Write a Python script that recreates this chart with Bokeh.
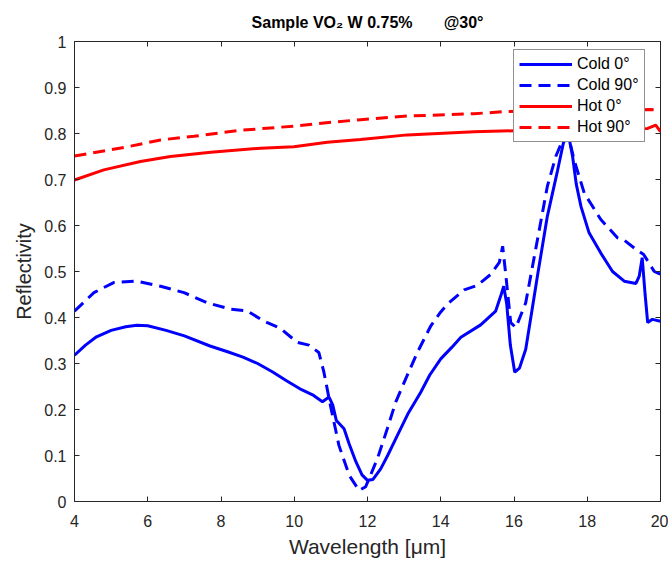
from bokeh.plotting import figure
from bokeh.models import LinearAxis, Range1d, Legend, LegendItem, FixedTicker
from bokeh.embed import file_html
from bokeh.resources import INLINE

# ---- data ----
cold0_x = [4.0, 4.3, 4.6, 5.0, 5.4, 5.7, 6.0, 6.5, 7.0, 7.7, 8.2, 8.6, 9.0, 9.4, 9.8, 10.2, 10.5,
           10.77, 10.95, 11.05, 11.15, 11.36, 11.5, 11.68, 11.85, 12.0, 12.15, 12.36, 12.55, 12.77,
           13.1, 13.45, 13.7, 14.0, 14.3, 14.55, 15.09, 15.5, 15.65, 15.72, 15.8, 15.9, 16.02, 16.15,
           16.32, 16.5, 16.64, 16.91, 17.19, 17.35, 17.48, 17.6, 17.7, 17.83, 18.05, 18.37, 18.69,
           19.01, 19.33, 19.42, 19.5, 19.58, 19.65, 19.78, 20.0]
cold0_y = [0.318, 0.34, 0.358, 0.372, 0.38, 0.383, 0.382, 0.372, 0.36, 0.338, 0.325, 0.314, 0.3,
           0.282, 0.262, 0.243, 0.232, 0.217, 0.227, 0.21, 0.176, 0.158, 0.125, 0.087, 0.058, 0.046,
           0.048, 0.071, 0.1, 0.136, 0.19, 0.237, 0.275, 0.31, 0.335, 0.357, 0.384, 0.414, 0.45,
           0.468, 0.43, 0.34, 0.281, 0.29, 0.331, 0.42, 0.49, 0.62, 0.72, 0.78, 0.80, 0.75, 0.69,
           0.641, 0.584, 0.54, 0.50, 0.479, 0.474, 0.49, 0.53, 0.45, 0.389, 0.396, 0.392]

cold90_x = [4.0, 4.53, 5.07, 5.71, 6.35, 6.99, 7.63, 8.26, 8.72, 9.17, 9.63, 10.08, 10.4, 10.67,
            10.81, 10.99, 11.22, 11.5, 11.77, 11.95, 12.27, 12.54, 12.77, 13.04, 13.36, 13.73, 14.0,
            14.18, 14.64, 15.0, 15.37, 15.6, 15.69, 15.78, 15.91, 16.05, 16.32, 16.64, 16.91, 17.14,
            17.35, 17.47, 17.65, 17.92, 18.37, 18.83, 19.01, 19.33, 19.54, 19.83, 20.0]
cold90_y = [0.414, 0.454, 0.476, 0.479, 0.468, 0.454, 0.432, 0.418, 0.414, 0.392, 0.376, 0.346,
            0.34, 0.324, 0.281, 0.208, 0.122, 0.057, 0.024, 0.032, 0.093, 0.158, 0.216, 0.266,
            0.324, 0.382, 0.412, 0.429, 0.46, 0.47, 0.494, 0.52, 0.555, 0.49, 0.389, 0.378, 0.432,
            0.569, 0.685, 0.75, 0.79, 0.80, 0.74, 0.67, 0.613, 0.573, 0.568, 0.548, 0.537, 0.50, 0.494]

hot0_x = [4.0, 4.8, 5.8, 6.62, 7.72, 9.08, 9.99, 10.9, 11.81, 13.09, 14.91, 16.0, 17.0, 18.0,
          19.0, 19.65, 19.87, 20.0]
hot0_y = [0.699, 0.721, 0.739, 0.75, 0.759, 0.768, 0.771, 0.781, 0.787, 0.797, 0.804, 0.806,
          0.807, 0.808, 0.81, 0.811, 0.818, 0.804]

hot90_x = [4.0, 5.44, 6.35, 7.26, 8.54, 9.99, 11.09, 11.81, 13.09, 14.91, 15.82, 17.0, 18.5,
           19.74, 20.0]
hot90_y = [0.751, 0.771, 0.786, 0.794, 0.807, 0.816, 0.825, 0.83, 0.838, 0.843, 0.848, 0.85,
           0.851, 0.852, 0.85]

x_ticks = [4, 6, 8, 10, 12, 14, 16, 18, 20]
y_ticks = [0, 0.1, 0.2, 0.3, 0.4, 0.5, 0.6, 0.7, 0.8, 0.9, 1]
y_tick_labels = {0: "0", 0.1: "0.1", 0.2: "0.2", 0.3: "0.3", 0.4: "0.4", 0.5: "0.5",
                 0.6: "0.6", 0.7: "0.7", 0.8: "0.8", 0.9: "0.9", 1: "1"}

FONT = "Liberation Sans"
AX = "#262626"
NB = "\u00a0"

p = figure(width=668, height=560, output_backend="svg", toolbar_location=None,
           x_range=Range1d(4, 20), y_range=Range1d(0, 1),
           min_border_left=74, min_border_right=8, min_border_top=41, min_border_bottom=57,
           title="Sample VO\u2082 W 0.75%" + NB * 7 + "@30\u00b0")
p.title.align = "center"
p.title.text_font = FONT
p.title.text_font_size = "16px"
p.title.text_font_style = "bold"
p.title.text_color = "black"
p.title.standoff = 21

p.grid.visible = False
p.outline_line_color = AX
p.outline_line_width = 1
p.background_fill_color = "white"

for ax in (p.xaxis[0], p.yaxis[0]):
    ax.major_tick_in = 5
    ax.major_tick_out = 0
    ax.minor_tick_in = 0
    ax.minor_tick_out = 0
    ax.axis_line_color = AX
    ax.major_tick_line_color = AX
    ax.major_label_text_font = FONT
    ax.major_label_text_font_size = "16px"
    ax.major_label_text_color = AX
    ax.axis_label_text_font = FONT
    ax.axis_label_text_font_style = "normal"
    ax.axis_label_text_color = AX

p.xaxis[0].axis_label_text_font_size = "21px"
p.yaxis[0].axis_label_text_font_size = "20px"
p.xaxis[0].ticker = FixedTicker(ticks=x_ticks)
p.yaxis[0].ticker = FixedTicker(ticks=y_ticks)
p.yaxis[0].major_label_overrides = y_tick_labels
p.xaxis[0].axis_label = "Wavelength [\u03bcm]"
p.yaxis[0].axis_label = "Reflectivity"
p.xaxis[0].major_label_standoff = 13
p.yaxis[0].major_label_standoff = 8
p.xaxis[0].axis_label_standoff = 5
p.yaxis[0].axis_label_standoff = 6

top = LinearAxis(ticker=FixedTicker(ticks=x_ticks))
right = LinearAxis(ticker=FixedTicker(ticks=y_ticks))
for ax in (top, right):
    ax.major_tick_in = 5
    ax.major_tick_out = 0
    ax.minor_tick_in = 0
    ax.minor_tick_out = 0
    ax.axis_line_color = None
    ax.major_tick_line_color = AX
    ax.major_label_text_font_size = "0px"
    ax.major_label_text_color = None
    ax.major_label_standoff = 0
p.add_layout(top, "above")
p.add_layout(right, "right")

lw = 3
r1 = p.line(cold0_x, cold0_y, line_color="#0000ff", line_width=lw)
r2 = p.line(cold90_x, cold90_y, line_color="#0000ff", line_width=lw, line_dash="12 7")
r3 = p.line(hot0_x, hot0_y, line_color="#ff0000", line_width=lw)
r4 = p.line(hot90_x, hot90_y, line_color="#ff0000", line_width=lw, line_dash="12 7")

legend = Legend(items=[LegendItem(label="Cold 0\u00b0", renderers=[r1]),
                       LegendItem(label="Cold 90\u00b0", renderers=[r2]),
                       LegendItem(label="Hot 0\u00b0", renderers=[r3]),
                       LegendItem(label="Hot 90\u00b0", renderers=[r4])],
                location=(439, 359))
legend.label_text_font = FONT
legend.label_text_font_size = "16px"
legend.label_text_color = "black"
legend.glyph_width = 53
legend.glyph_height = 18
legend.label_height = 18
legend.spacing = 3
legend.padding = 5
legend.margin = 0
legend.label_standoff = 5
legend.border_line_color = AX
legend.border_line_width = 1
legend.background_fill_color = "white"
legend.background_fill_alpha = 1
p.add_layout(legend, "center")

open("out.html", "w").write(file_html(p, INLINE))
